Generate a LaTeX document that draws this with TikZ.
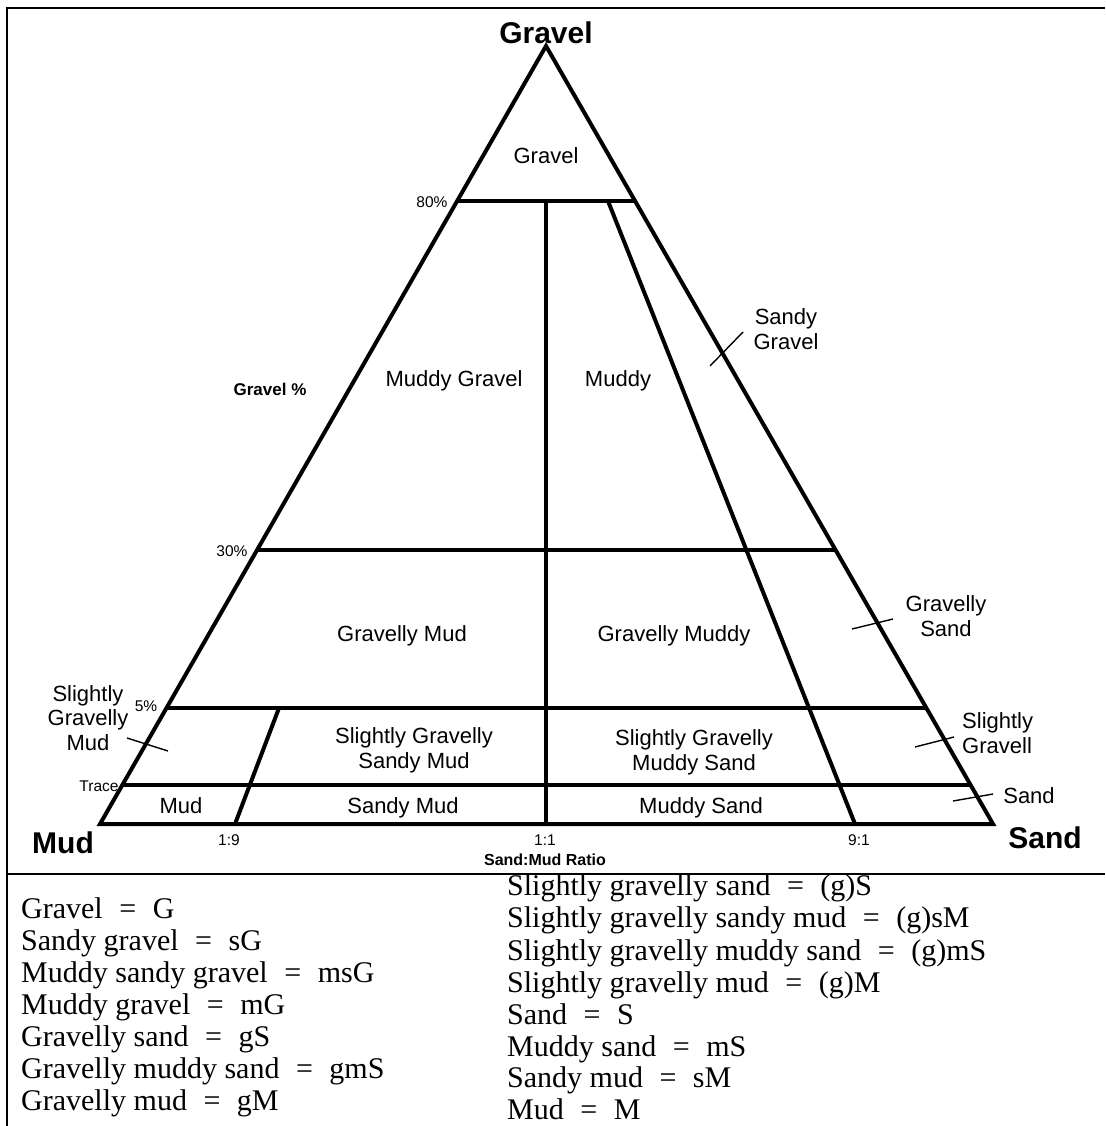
\documentclass[tikz,border=0pt]{standalone}
\usepackage{fontspec}
\usetikzlibrary{calc}
\setmainfont{Liberation Sans}
\newfontfamily\legendfont{Liberation Serif}
\newcommand{\eqsign}{\hspace{0.55em}=\hspace{0.55em}}
\begin{document}
\begin{tikzpicture}[x=1pt,y=-1pt,
  tri/.style={line width=4pt, line join=miter, line cap=butt},
  lead/.style={line width=1.4pt},
  frame/.style={line width=2.5pt},
  lab/.style={font=\fontsize{22}{24.5}\selectfont, align=center, inner sep=0pt, text height=15.8pt, text depth=0pt},
  mlab/.style={font=\fontsize{22}{24.5}\selectfont, align=center, inner sep=0pt},
  small/.style={font=\fontsize{15.5}{17}\selectfont, inner sep=0pt, text height=11pt, text depth=0pt},
  corner/.style={font=\fontsize{30}{34}\selectfont\bfseries, inner sep=0pt, text height=21.5pt, text depth=0pt},
  axis/.style={font=\fontsize{16}{19}\selectfont\bfseries, inner sep=0pt, text height=11.5pt, text depth=0pt},
  leg/.style={font=\fontsize{30}{32}\selectfont\legendfont, anchor=base west, inner sep=0pt}]
\useasboundingbox (0,0) rectangle (1105,1126);
\fill[white] (0,0) rectangle (1105,1126);
% frame
\draw[frame] (7,1126) -- (7,8) -- (1105,8);
\draw[line width=2pt] (7,874) -- (1105,874);
% triangle vertices
\coordinate (A) at (546,46);
\coordinate (L) at (100,824);
\coordinate (R) at (993,824);
\coordinate (l80) at ($(A)!0.1992!(L)$);
\coordinate (r80) at ($(A)!0.1992!(R)$);
\coordinate (l30) at ($(A)!0.6478!(L)$);
\coordinate (r30) at ($(A)!0.6478!(R)$);
\coordinate (l5) at ($(A)!0.8509!(L)$);
\coordinate (r5) at ($(A)!0.8509!(R)$);
\coordinate (lT) at ($(A)!0.9499!(L)$);
\coordinate (rT) at ($(A)!0.9499!(R)$);
\coordinate (m80) at (546,201);
\coordinate (m0) at (546,824);
\coordinate (n80) at (608,201);
\coordinate (n0) at (855,824);
\coordinate (k5) at (279,708);
\coordinate (k0) at (235,824);
\draw[tri] (A) -- (L) -- (R) -- cycle;
\draw[tri] (l80) -- (r80);
\draw[tri] (l30) -- (r30);
\draw[tri] (l5) -- (r5);
\draw[tri] (lT) -- (rT);
\draw[tri] (m80) -- (m0);
\draw[tri] (n80) -- (n0);
\draw[tri] (k5) -- (k0);
% leaders
\coordinate (sg1) at (710,366); \coordinate (sg2) at (743,332);
\coordinate (gs1) at (852,629); \coordinate (gs2) at (893,619);
\coordinate (sm1) at (127,738); \coordinate (sm2) at (168,751);
\coordinate (sl1) at (915,747); \coordinate (sl2) at (954,737);
\coordinate (sa1) at (953,801); \coordinate (sa2) at (993,794);
\draw[lead] (sg1) -- (sg2);
\draw[lead] (gs1) -- (gs2);
\draw[lead] (sm1) -- (sm2);
\draw[lead] (sl1) -- (sl2);
\draw[lead] (sa1) -- (sa2);
% corner labels
\node[corner] (cG) at (546,33) {Gravel};
\node[corner] (cM) at (63,843) {Mud};
\node[corner] (cS) at (1045,838) {Sand};
% region labels
\node[lab] (g1) at (546,156) {Gravel};
\node[lab] (g2) at (454,379) {Muddy Gravel};
\node[lab] (g3) at (618,379) {Muddy};
\node[lab] (g5) at (402,634) {Gravelly Mud};
\node[lab] (g6) at (674,634) {Gravelly Muddy};
\node[lab] (g12) at (1029,796) {Sand};
\node[lab] (g13) at (181,806) {Mud};
\node[lab] (g14) at (403,806) {Sandy Mud};
\node[lab] (g15) at (701,806) {Muddy Sand};
% multi-line labels (anchored at last baseline)
\node[mlab, anchor=base] (g4) at (786,349) {Sandy\\Gravel};
\node[mlab, anchor=base] (g7) at (946,636) {Gravelly\\Sand};
\node[mlab, anchor=base] (g8) at (88,750) {Slightly\\Gravelly\\Mud};
\node[mlab, anchor=base] (g9) at (414,768) {Slightly Gravelly\\Sandy Mud};
\node[mlab, anchor=base] (g10) at (694,770) {Slightly Gravelly\\Muddy Sand};
\node[mlab, align=left, anchor=base west] (g11) at (962,753) {Slightly\\Gravell};
% small labels
\node[axis, font=\fontsize{17}{19}\selectfont\bfseries, text height=12.2pt] (gp) at (270,389) {Gravel \%};
\node[small] (p80) at (432,202) {80\%};
\node[small] (p30) at (232,551) {30\%};
\node[small] (p5) at (146,706) {5\%};
\node[small] (pT) at (99,786) {Trace};
\node[small] (r19) at (229,840) {1:9};
\node[small] (r11) at (545,840) {1:1};
\node[small] (r91) at (859,840) {9:1};
\node[axis] (ratio) at (545,860) {Sand:Mud Ratio};
% legend
\node[leg] (a1) at (21,918) {Gravel\eqsign G};
\node[leg] (a2) at (21,950) {Sandy gravel\eqsign sG};
\node[leg] (a3) at (21,982) {Muddy sandy gravel\eqsign msG};
\node[leg] (a4) at (21,1014) {Muddy gravel\eqsign mG};
\node[leg] (a5) at (21,1046) {Gravelly sand\eqsign gS};
\node[leg] (a6) at (21,1078) {Gravelly muddy sand\eqsign gmS};
\node[leg] (a7) at (21,1110) {Gravelly mud\eqsign gM};
\node[leg] (b1) at (507,895) {Slightly gravelly sand\eqsign (g)S};
\node[leg] (b2) at (507,927) {Slightly gravelly sandy mud\eqsign (g)sM};
\node[leg] (b3) at (507,960) {Slightly gravelly muddy sand\eqsign (g)mS};
\node[leg] (b4) at (507,992) {Slightly gravelly mud\eqsign (g)M};
\node[leg] (b5) at (507,1024) {Sand\eqsign S};
\node[leg] (b6) at (507,1056) {Muddy sand\eqsign mS};
\node[leg] (b7) at (507,1087) {Sandy mud\eqsign sM};
\node[leg] (b8) at (507,1119) {Mud\eqsign M};
\end{tikzpicture}
\end{document}
